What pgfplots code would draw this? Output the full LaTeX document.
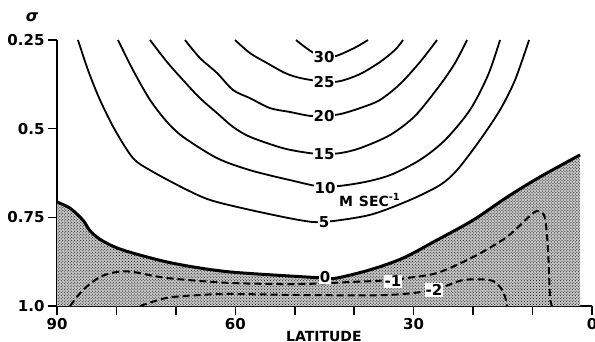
\documentclass[border=0pt]{standalone}
\usepackage{fontspec}
\setmainfont{DejaVu Sans}
\usepackage{pgfplots}
\pgfplotsset{compat=1.18}
\usepgfplotslibrary{fillbetween}
\usetikzlibrary{patterns}
\begin{document}
\begin{tikzpicture}[c/.style={black, line width=1.8bp, smooth, tension=0.5, mark=none, solid}]
\begin{axis}[
  scale only axis, width=535bp, height=266bp,
  x dir=reverse, y dir=reverse,
  xmin=0, xmax=90, ymin=0.25, ymax=1.0,
  axis x line*=bottom, axis y line*=left,
  axis line style={line width=1.8bp},
  xtick={0,10,...,90}, xticklabels={0,,,30,,,60,,,90},
  ytick={0.25,0.5,0.75,1.0}, yticklabels={0.25,0.5,0.75,1.0},
  tick align=outside, major tick length=9bp,
  tick style={line width=1.6bp, black},
  ticklabel style={font=\bfseries\fontsize{15bp}{17bp}\selectfont},
  /pgf/number format/assume math mode=true,
  clip=false,
]
% zero contour path (for the shading)
\addplot[c, draw=none, name path=zero] coordinates {(90,0.707)(87.81,0.724)(85.63,0.758)(84.45,0.788)(82.77,0.812)(80.24,0.834)(77.21,0.851)
 (71.49,0.876)(65.94,0.893)(60.89,0.904)(54.17,0.912)(45.08,0.921)(42.89,0.921)(37.34,0.898)
 (31.79,0.865)(26.07,0.814)(20.01,0.758)(14.29,0.693)(8.74,0.636)(2.01,0.574)};
\path[name path=bot] (axis cs:90,1.0) -- (axis cs:2.01,1.0);
\addplot[draw=none, fill=black!22] fill between[of=zero and bot];
\addplot[draw=none, pattern=crosshatch dots, pattern color=black] fill between[of=zero and bot];
% 30
\addplot[c] coordinates {(49.79,0.25)(48.28,0.270)(46.76,0.287)(45.08,0.298)(43.06,0.295)(41.04,0.281)(39.36,0.267)(37.68,0.25)};
% 25
\addplot[c] coordinates {(60.05,0.25)(57.53,0.287)(54.67,0.315)(51.64,0.343)(49.12,0.357)(45.08,0.368)(42.39,0.366)(39.02,0.346)(35.66,0.312)(33.14,0.278)(31.79,0.25)};
% 20
\addplot[c] coordinates {(68.47,0.25)(65.94,0.301)(63.08,0.343)(60.39,0.391)(57.53,0.414)(54.17,0.442)(50.80,0.453)(47.44,0.464)(45.08,0.464)(42.39,0.459)(39.02,0.442)(35.66,0.419)(32.29,0.374)(28.93,0.312)(26.07,0.25)};
% 15
\addplot[c] coordinates {(74.35,0.25)(71.49,0.312)(68.80,0.363)(65.94,0.414)(63.08,0.456)(60.39,0.495)(57.53,0.523)(51.98,0.555)(47.44,0.569)(45.08,0.571)(42.39,0.569)(39.02,0.555)(33.98,0.518)(29.77,0.464)(25.57,0.377)(23.04,0.315)(21.02,0.25)};
% 10
\addplot[c] coordinates {(79.74,0.25)(77.21,0.335)(74.35,0.419)(71.49,0.481)(68.80,0.523)(63.08,0.583)(57.53,0.617)(50.80,0.645)(45.08,0.664)(39.02,0.653)(33.98,0.631)(28.93,0.588)(24.72,0.532)(20.52,0.447)(17.49,0.349)(15.47,0.25)};
% 5
\addplot[c] coordinates {(86.47,0.25)(84.78,0.335)(82.77,0.419)(80.24,0.504)(77.21,0.583)(74.35,0.617)(68.80,0.667)(64.26,0.701)(57.53,0.729)(49.12,0.758)(45.08,0.763)(37.34,0.743)(30.61,0.701)(25.57,0.659)(22.71,0.617)(18.84,0.532)(15.47,0.447)(12.95,0.363)(10.59,0.25)};
% 0 (thick)
\addplot[c, line width=3bp] coordinates {(90,0.707)(87.81,0.724)(85.63,0.758)(84.45,0.788)(82.77,0.812)(80.24,0.834)(77.21,0.851)
 (71.49,0.876)(65.94,0.893)(60.89,0.904)(54.17,0.912)(45.08,0.921)(42.89,0.921)(37.34,0.898)
 (31.79,0.865)(26.07,0.814)(20.01,0.758)(14.29,0.693)(8.74,0.636)(2.01,0.574)};
% -1 dashed
\addplot[c, line width=2bp, dash pattern=on 7bp off 4bp] coordinates {(87.81,1.0)(85.63,0.955)(82.77,0.918)(79.91,0.904)(77.21,0.904)(71.49,0.921)(60.89,0.935)(49.12,0.938)(40.20,0.932)(33.64,0.927)(31.12,0.921)(26.07,0.907)(20.01,0.862)(14.29,0.805)(9.92,0.738)(8.74,0.735)(7.90,0.752)(7.40,0.842)(7.06,0.974)(6.72,1.0)};
% -2 dashed
\addplot[c, line width=2bp, dash pattern=on 7bp off 4bp] coordinates {(76.04,1.0)(71.49,0.977)(65.94,0.969)(60.89,0.966)(49.12,0.969)(34.48,0.969)(26.74,0.955)(21.70,0.927)(17.15,0.927)(15.47,0.946)(14.63,0.974)(14.29,1.0)};
% labels
\begin{scope}[every node/.style={fill=white, inner sep=1bp, font=\bfseries\fontsize{15bp}{17bp}\selectfont}]
\node at (axis cs:45.08,0.298) {30};
\node at (axis cs:45.08,0.368) {25};
\node at (axis cs:45.08,0.464) {20};
\node at (axis cs:45.08,0.571) {15};
\node at (axis cs:44.9,0.667) {10};
\node at (axis cs:45.08,0.763) {5};
\node at (axis cs:44.9,0.918) {0};
\node at (axis cs:33.5,0.930) {-1};
\node at (axis cs:26.6,0.955) {-2};
\end{scope}
\node[font=\bfseries\fontsize{14bp}{16bp}\selectfont] at (axis cs:37.4,0.701) {M\hspace{6bp}SEC\textsuperscript{-1}};
\node[font=\bfseries\fontsize{14bp}{16bp}\selectfont] at (axis cs:45.1,1.0846) {LATITUDE};
\node[font=\bfseries\itshape\fontsize{16bp}{18bp}\selectfont] at (axis cs:94.2,0.185) {σ};
\coordinate (sw) at (axis cs:90,1.0);
\end{axis}
\pgfresetboundingbox
\path[use as bounding box] ([shift={(-57bp,-36bp)}]sw) rectangle ([shift={(538bp,306bp)}]sw);
\end{tikzpicture}
\end{document}
